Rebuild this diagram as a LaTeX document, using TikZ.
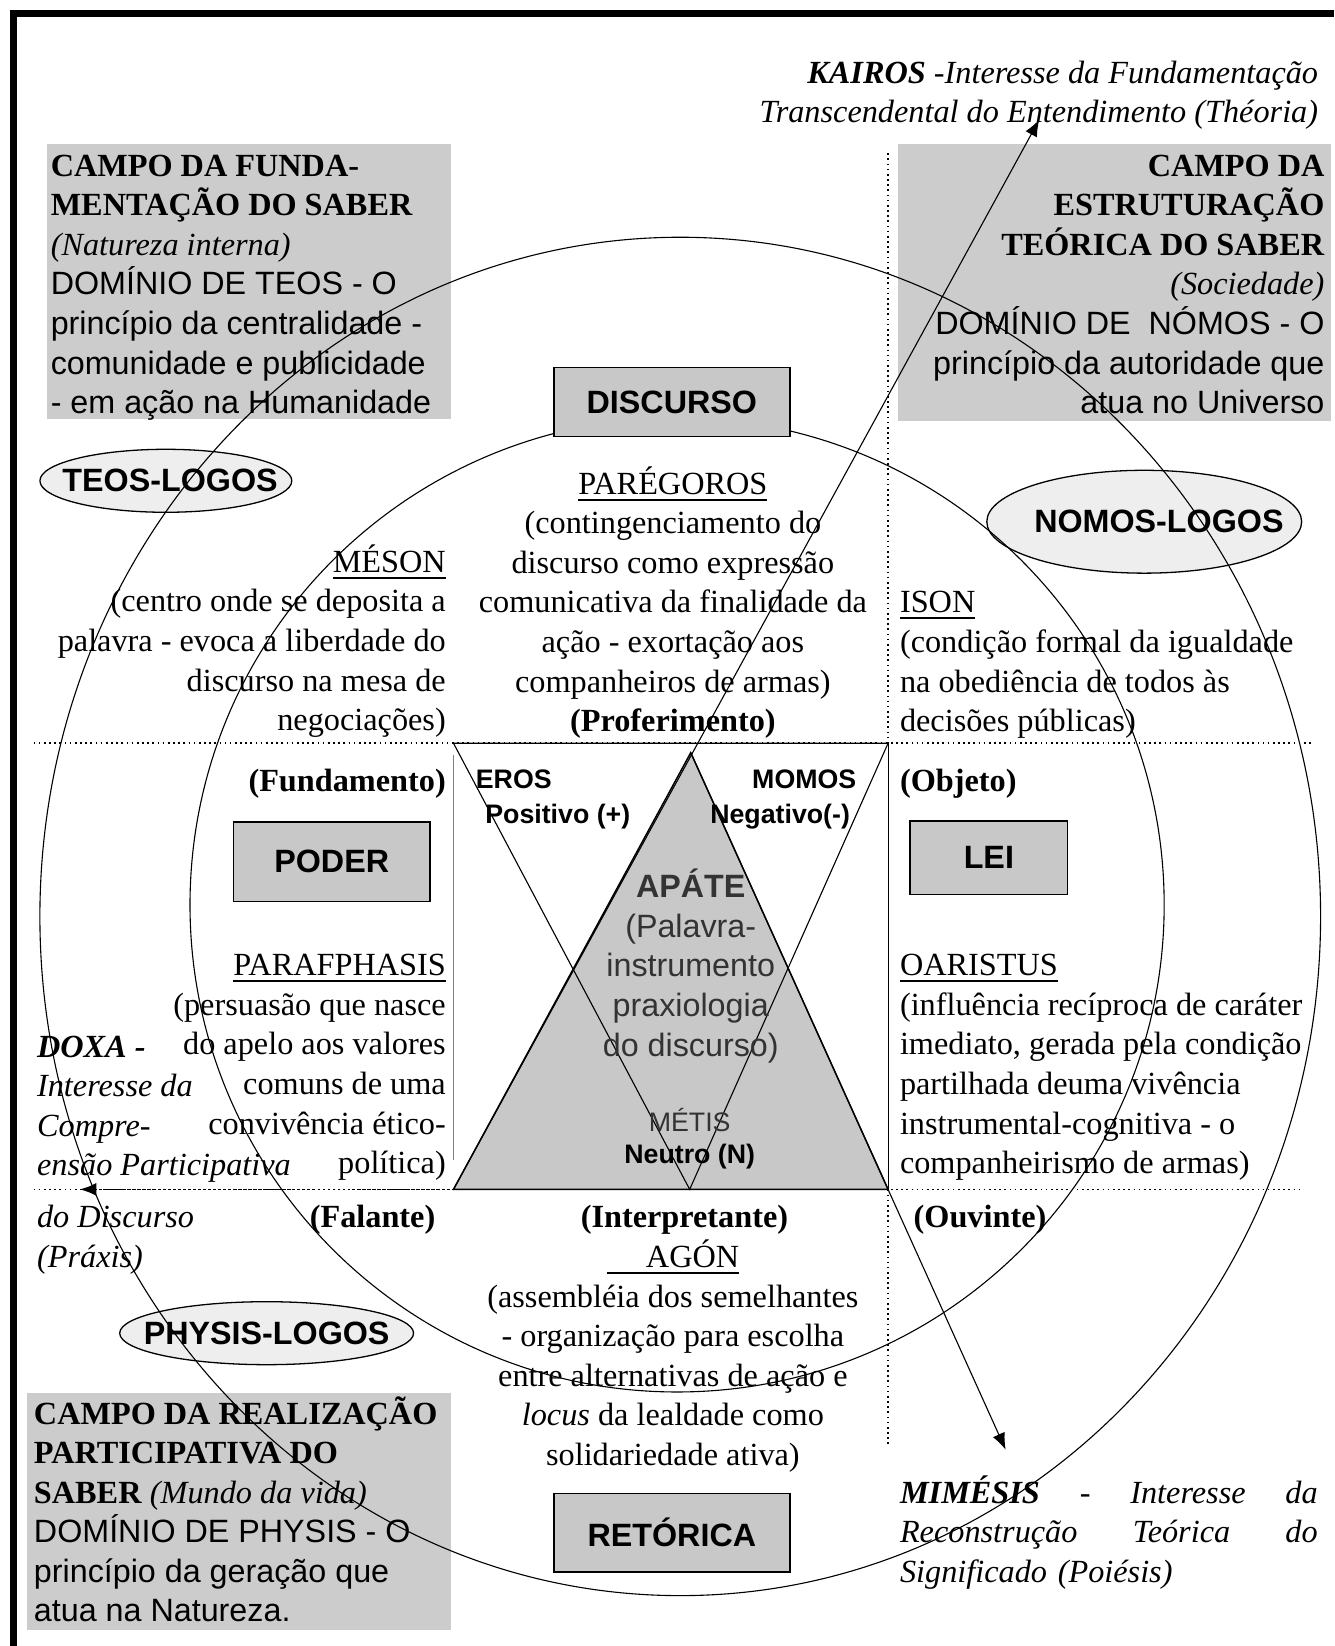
\documentclass[tikz,border=0pt]{standalone}
\usepackage{fontspec}
\setmainfont{Liberation Serif}
\setsansfont{Liberation Sans}
\usetikzlibrary{arrows.meta, shapes.geometric}

\definecolor{fieldgray}{RGB}{204,204,204}
\definecolor{boxgray}{RGB}{200,200,200}
\definecolor{ovalgray}{RGB}{238,238,238}

\newcommand{\diatext}{\fontsize{17.5}{21.45}\selectfont}
\newcommand{\smalltag}{\fontsize{14.5}{17}\selectfont}
\newsavebox{\wordbox}
\newcommand{\underword}[1]{\sbox{\wordbox}{#1}\rlap{\rule[-3.5pt]{\wd\wordbox}{1.1pt}}\usebox{\wordbox}}

\begin{document}
\begin{tikzpicture}[x=0.02cm, y=-0.02cm,
	txt/.style={font=\diatext, inner sep=0pt},
	tagtext/.style={font=\smalltag\sffamily\bfseries, inner sep=0pt},
	conceptbox/.style={draw, line width=0.8pt, fill=boxgray, font=\diatext\sffamily\bfseries},
	logos/.style={ellipse, draw, line width=0.7pt, fill=ovalgray, font=\diatext\sffamily\bfseries, inner sep=0pt},
	guide/.style={line width=0.9pt, dash pattern=on 0.9pt off 1.9pt},
	ring/.style={line width=0.6pt},
	extension/.style={line width=0.6pt, -{Latex[length=9pt, width=7pt]}}]
	\useasboundingbox (0,0) rectangle (1271,1568);
	\fill[fieldgray] (45,137) rectangle (430,399);
	\fill[fieldgray] (855,137) rectangle (1268,401);
	\fill[fieldgray] (26,1327) rectangle (430,1553);
	\draw[line width=0.12cm] (13,1568) -- (13,13) -- (1271,13);

	\node[logos, minimum width=4.8cm, minimum height=1.2cm] (teos) at (158,458) {\makebox[0pt]{\hspace{0.16cm}TEOS-LOGOS}};
	\node[logos, minimum width=6cm, minimum height=1.96cm] (nomos) at (1090,497) {\makebox[0pt]{\hspace{0.56cm}NOMOS-LOGOS}};
	\node[logos, minimum width=5.6cm, minimum height=1.2cm] (physis) at (254,1270) {\makebox[0pt]{PHYSIS-LOGOS}};

	\draw[ring] (648,873) ellipse [x radius=610, y radius=647];
	\draw[ring] (645,862) circle [radius=464];

	\draw[guide] (32,708) -- (1250,708);
	\draw[guide] (32,1133) -- (1240,1133);
	\draw[guide] (846,146) -- (846,708);
	\draw[guide] (846,1133) -- (846,1378);
	\draw[line width=0.6pt] (846,708) -- (846,1133);
	\draw[line width=0.6pt, gray] (432,719) -- (432,1105);

	\coordinate (apex) at (658,717);
	\coordinate (base-left) at (432,1133);
	\coordinate (base-right) at (846,1133);
	\coordinate (eros-corner) at (432,708);
	\coordinate (momos-corner) at (846,708);
	\coordinate (metis-point) at (657,1133);
	\coordinate (kairos-tip) at (990,114);
	\coordinate (mimesis-tip) at (958,1381);
	\coordinate (doxa-tip) at (76,1133);
	\filldraw[fill=boxgray, line width=0.8pt] (apex) -- (base-right) -- (base-left) -- cycle;
	\draw[line width=0.6pt] (eros-corner) -- (momos-corner) -- (metis-point) -- cycle;
	\draw[extension] (base-left) -- (kairos-tip);
	\draw[extension] (apex) -- (mimesis-tip);
	\draw[extension, line width=0.9pt, dash pattern=on 1.5pt off 1.2pt] (base-right) -- (doxa-tip);

	\node[conceptbox, minimum width=4.5cm, minimum height=1.32cm] (discurso) at (640,383) {DISCURSO};
	\node[conceptbox, minimum width=3.74cm, minimum height=1.52cm] (poder) at (316,821) {PODER};
	\node[conceptbox, minimum width=3cm, minimum height=1.4cm] (lei) at (942,817) {LEI};
	\node[conceptbox, minimum width=4.5cm, minimum height=1.5cm] (retorica) at (640,1460) {RETÓRICA};

	\node[txt, anchor=base east, align=right, font=\diatext\itshape] (kairos) at (1256,117)
		{\textbf{KAIROS} -Interesse da Fundamentação\\Transcendental do Entendimento (Théoria)};
	\node[txt, anchor=base west, align=left] (teos-field) at (48,394)
		{\textbf{CAMPO DA FUNDA-}\\\textbf{MENTAÇÃO DO SABER}\\\textit{(Natureza interna)}\\\textsf{DOMÍNIO DE TEOS - O}\\\textsf{princípio da centralidade -}\\\textsf{comunidade e publicidade}\\\textsf{- em ação na Humanidade}};
	\node[txt, anchor=base east, align=right] (nomos-field) at (1262,394)
		{\textbf{CAMPO DA}\\\textbf{ESTRUTURAÇÃO}\\\textbf{TEÓRICA DO SABER}\\\textit{(Sociedade)}\\\textsf{DOMÍNIO DE\ \ NÓMOS - O}\\\textsf{princípio da autoridade que}\\\textsf{atua no Universo}};
	\node[txt, anchor=base west, align=left] (physis-field) at (32,1545)
		{\textbf{CAMPO DA REALIZAÇÃO}\\\textbf{PARTICIPATIVA DO}\\\textbf{SABER} \textit{(Mundo da vida)}\\\textsf{DOMÍNIO DE PHYSIS - O}\\\textsf{princípio da geração que}\\\textsf{atua na Natureza.}};

	\node[txt, anchor=base east, align=right] (meson) at (425,696)
		{\underword{MÉSON}\\(centro onde se deposita a\\palavra - evoca a liberdade do\\discurso na mesa de\\negociações)};
	\node[txt, anchor=base, align=center] (paregoros) at (641,697)
		{\underword{PARÉGOROS}\\(contingenciamento do\\discurso como expressão\\comunicativa da finalidade da\\ação - exortação aos\\companheiros de armas)\\\textbf{(Proferimento)}};
	\node[txt, anchor=base west, align=left] (ison) at (857,697)
		{\underword{ISON}\\(condição formal da igualdade\\na obediência de todos às\\decisões públicas)};

	\node[txt, anchor=base east, font=\diatext\bfseries] (fundamento) at (425,754) {(Fundamento)};
	\node[txt, anchor=base west, font=\diatext\bfseries] (objeto) at (857,754) {(Objeto)};
	\node[tagtext, anchor=base west] (eros) at (453,751) {EROS};
	\node[tagtext, anchor=base west] (positivo) at (462,784) {Positivo (+)};
	\node[tagtext, anchor=base east] (momos) at (816,751) {MOMOS};
	\node[tagtext, anchor=base east] (negativo) at (810,784) {Negativo(-)};

	\node[txt, anchor=base, align=center, font=\diatext\sffamily, text=black!80] (apate) at (658,1006)
		{\textbf{APÁTE}\\(Palavra-\\instrumento\\praxiologia\\do discurso)};
	\node[txt, anchor=base, font=\smalltag\sffamily, text=black!80] (metis) at (657,1078) {MÉTIS};
	\node[tagtext, anchor=base] (neutro) at (657,1108) {Neutro (N)};

	\node[txt, anchor=base east, align=right] (paraphasis) at (425,1118)
		{\underword{PARAFPHASIS}\\(persuasão que nasce\\do apelo aos valores\\comuns de uma\\convivência ético-\\política)};
	\node[txt, anchor=base west, align=left, font=\diatext\itshape] (doxa) at (35,1207)
		{\textbf{DOXA -}\\Interesse da\\Compre-\\ensão Participativa\\[0.23cm]do Discurso\\(Práxis)};
	\node[txt, anchor=base west, align=left] (oaristus) at (857,1118)
		{\underword{OARISTUS}\\(influência recíproca de caráter\\imediato, gerada pela condição\\partilhada deuma vivência\\instrumental-cognitiva - o\\companheirismo de armas)};

	\node[txt, anchor=base east, font=\diatext\bfseries] (falante) at (415,1169) {(Falante)};
	\node[txt, anchor=base, font=\diatext\bfseries] (interpretante) at (652,1169) {(Interpretante)};
	\node[txt, anchor=base west, font=\diatext\bfseries] (ouvinte) at (870,1169) {(Ouvinte)};
	\node[txt, anchor=base, align=center] (agon) at (641,1396)
		{\underword{\hspace{0.75cm}AGÓN}\\(assembléia dos semelhantes\\- organização para escolha\\entre alternativas de ação e\\\textit{locus} da lealdade como\\solidariedade ativa)};
	\node[txt, anchor=base west, align=left, text width=7.96cm, font=\diatext\itshape] (mimesis) at (857,1432)
		{\textbf{MIMÉSIS}\hfill-\hfill Interesse\hfill da\\Reconstrução\hfill Teórica\hfill do\\Significado (Poiésis)};
\end{tikzpicture}
\end{document}
